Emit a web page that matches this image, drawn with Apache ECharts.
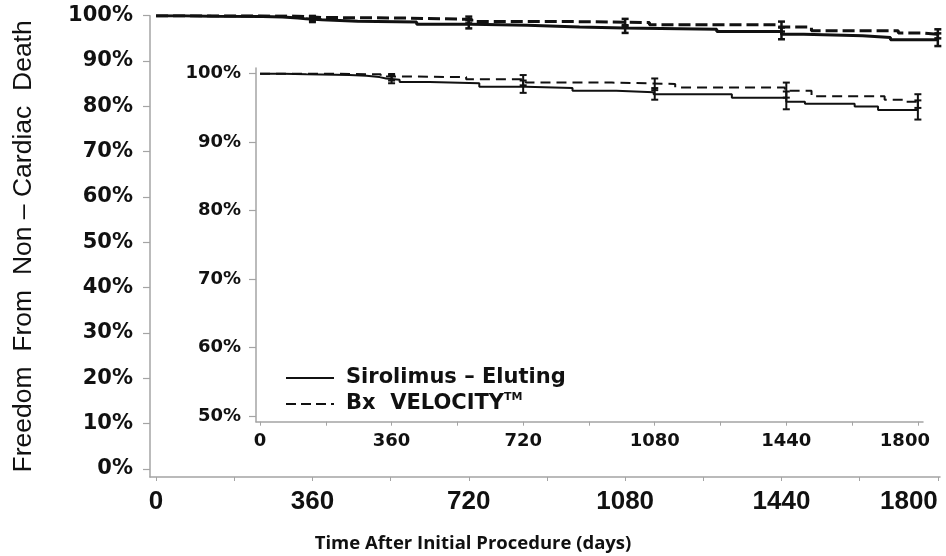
<!DOCTYPE html>
<html>
<head>
<meta charset="utf-8">
<script src="https://cdn.jsdelivr.net/npm/echarts@6/dist/echarts.min.js"></script>
<style>
  html, body { margin: 0; padding: 0; background: #fff; }
  #chart { width: 946px; height: 556px; }
</style>
</head>
<body>
<div id="chart"></div>
<script>
// Kaplan-Meier freedom from non-cardiac death, by stent type
const sesName = 'Sirolimus – Eluting';
const bxName = 'Bx VELOCITY';

// Sirolimus-eluting arm: day of each step and survival (%) from that day on
const sesDays = [0, 63, 127, 245, 291, 327, 345, 382, 464, 600, 727, 855, 975, 1077, 1291, 1440, 1491, 1627, 1691, 1800];
const sesSurv = [100, 99.9, 99.8, 99.7, 99.5, 99.3, 99.1, 98.8, 98.6, 98.1, 97.9, 97.5, 97.3, 97.0, 96.5, 95.9, 95.6, 95.2, 94.7, 94.7];

// Bx VELOCITY arm
const bxDays = [0, 200, 330, 380, 564, 727, 963, 1136, 1436, 1509, 1709, 1764, 1800];
const bxSurv = [100, 99.9, 99.6, 99.5, 99.2, 98.7, 98.5, 98.0, 97.5, 96.7, 96.2, 95.9, 95.9];

// Yearly confidence intervals
const ciDays = [360, 720, 1080, 1440, 1800];
const sesLower = [98.6, 97.2, 96.2, 94.8, 93.3];
const sesUpper = [99.8, 99.0, 97.9, 97.4, 96.1];
const bxLower = [99.0, 98.3, 97.6, 96.5, 95.0];
const bxUpper = [99.95, 99.8, 99.3, 98.7, 97.0];

// Axis ticks and labels
const dayTicks = [0, 180, 360, 540, 720, 900, 1080, 1260, 1440, 1620, 1800];
const dayLabels = [0, 360, 720, 1080, 1440, 1800];
const mainPctTicks = [0, 10, 20, 30, 40, 50, 60, 70, 80, 90, 100];
const insetPctTicks = [50, 60, 70, 80, 90, 100];

const ink = '#111';
const axisGrey = '#a4a4a4';

const pairs = (xs, ys) => xs.map((x, i) => [x, ys[i]]);
const ciRows = (lo, hi) => ciDays.map((d, i) => [d, lo[i], hi[i]]);
const lastDay = dayLabels[dayLabels.length - 1];

function errorBar(capHalf, lw) {
  return function (params, api) {
    const x = api.value(0);
    const p1 = api.coord([x, api.value(1)]);
    const p2 = api.coord([x, api.value(2)]);
    const style = { stroke: ink, lineWidth: lw };
    return {
      type: 'group',
      children: [
        { type: 'line', shape: { x1: p1[0], y1: p1[1], x2: p2[0], y2: p2[1] }, style },
        { type: 'line', shape: { x1: p1[0] - capHalf, y1: p1[1], x2: p1[0] + capHalf, y2: p1[1] }, style },
        { type: 'line', shape: { x1: p2[0] - capHalf, y1: p2[1], x2: p2[0] + capHalf, y2: p2[1] }, style }
      ]
    };
  };
}

function xAxisDef(gridIndex, min, max, labelFont) {
  return {
    type: 'value', gridIndex, min, max,
    axisLine: { show: true, onZero: false, lineStyle: { color: axisGrey, width: 1.5 } },
    axisTick: { show: true, customValues: dayTicks, length: 4, lineStyle: { color: axisGrey, width: 1 } },
    axisLabel: Object.assign({ customValues: dayLabels, color: ink, formatter: v => String(v) }, labelFont),
    splitLine: { show: false }
  };
}

function yAxisDef(gridIndex, min, max, ticks, labelFont) {
  return {
    type: 'value', gridIndex, min, max,
    axisLine: { show: true, onZero: false, lineStyle: { color: axisGrey, width: 1.5 } },
    axisTick: { show: true, customValues: ticks, length: 7, lineStyle: { color: axisGrey, width: 1.2 } },
    axisLabel: Object.assign({ customValues: ticks, color: ink, formatter: v => v + '%' }, labelFont),
    splitLine: { show: false }
  };
}

const chart = echarts.init(document.getElementById('chart'), null, { renderer: 'canvas' });

const mainX = xAxisDef(0, -14, 1805,
  { fontFamily: 'Liberation Sans', fontWeight: 'bold', fontSize: 26, margin: 12, alignMaxLabel: 'right' });

// inset: the final day label sits a little left of its tick
const insetX = xAxisDef(1, -11, 1814,
  { fontFamily: 'DejaVu Sans', fontWeight: 'bold', fontSize: 18, margin: 11 });
insetX.axisLabel.formatter = v => v === lastDay ? '{last|' + v + '}' : String(v);
insetX.axisLabel.rich = {
  last: { fontFamily: 'DejaVu Sans', fontWeight: 'bold', fontSize: 18, color: ink, padding: [0, 26, 0, 0] }
};

const mainY = yAxisDef(0, -1.8, 100, mainPctTicks,
  { fontFamily: 'DejaVu Sans', fontWeight: 'bold', fontSize: 21, margin: 17 });
mainY.name = 'Freedom  From  Non – Cardiac  Death';
mainY.nameLocation = 'middle';
mainY.nameGap = 113;
mainY.nameTextStyle = { fontFamily: 'Liberation Sans', fontSize: 26.5, color: ink };

chart.setOption({
  animation: false,
  backgroundColor: '#fff',
  title: {
    text: 'Time After Initial Procedure (days)',
    left: 'center', top: 529,
    textStyle: { fontFamily: 'Open Sans', fontWeight: 'bold', fontSize: 18.5, color: ink }
  },
  grid: [
    { left: 150, top: 15.7, right: 6, bottom: 79, outerBoundsMode: 'none' },
    { left: 256, top: 68, right: 23, bottom: 134.3, outerBoundsMode: 'none' }
  ],
  xAxis: [mainX, insetX],
  yAxis: [
    mainY,
    yAxisDef(1, 49.17, 100.83, insetPctTicks,
      { fontFamily: 'DejaVu Sans', fontWeight: 'bold', fontSize: 18, margin: 15 })
  ],
  legend: {
    orient: 'vertical', left: 280, top: 361,
    itemWidth: 48, itemHeight: 14, itemGap: 2,
    selectedMode: false,
    itemStyle: { color: 'rgba(0,0,0,0)', borderWidth: 0 },
    data: [
      { name: sesName, lineStyle: { type: 'solid', width: 2, color: ink } },
      { name: bxName, lineStyle: { type: [10, 5], width: 2, color: ink } }
    ],
    formatter: name => name === bxName ? name.replace(' ', '  ') + '{tm|TM}' : name,
    textStyle: {
      fontFamily: 'DejaVu Sans', fontWeight: 'bold', fontSize: 21, color: ink,
      lineHeight: 24, padding: [0, 0, 0, 7],
      rich: {
        tm: { fontFamily: 'DejaVu Sans', fontWeight: 'bold', fontSize: 11, lineHeight: 14, verticalAlign: 'top', color: ink }
      }
    }
  },
  series: [
    { name: sesName, type: 'line', xAxisIndex: 1, yAxisIndex: 1, step: 'end', symbol: 'none',
      lineStyle: { color: ink, width: 2 }, data: pairs(sesDays, sesSurv) },
    { name: bxName, type: 'line', xAxisIndex: 1, yAxisIndex: 1, step: 'end', symbol: 'none',
      lineStyle: { color: ink, width: 2, type: [10, 6] }, data: pairs(bxDays, bxSurv) },
    { name: sesName, type: 'line', xAxisIndex: 0, yAxisIndex: 0, step: 'end', symbol: 'none',
      lineStyle: { color: ink, width: 3 }, data: pairs(sesDays, sesSurv) },
    { name: bxName, type: 'line', xAxisIndex: 0, yAxisIndex: 0, step: 'end', symbol: 'none',
      lineStyle: { color: ink, width: 3, type: [12, 5] }, data: pairs(bxDays, bxSurv) },
    { type: 'custom', xAxisIndex: 1, yAxisIndex: 1, renderItem: errorBar(3.5, 2),
      encode: { x: 0, y: [1, 2] }, data: ciRows(sesLower, sesUpper), z: 3 },
    { type: 'custom', xAxisIndex: 1, yAxisIndex: 1, renderItem: errorBar(3.5, 2),
      encode: { x: 0, y: [1, 2] }, data: ciRows(bxLower, bxUpper), z: 3 },
    { type: 'custom', xAxisIndex: 0, yAxisIndex: 0, renderItem: errorBar(3.5, 2.5),
      encode: { x: 0, y: [1, 2] }, data: ciRows(sesLower, sesUpper), z: 3 },
    { type: 'custom', xAxisIndex: 0, yAxisIndex: 0, renderItem: errorBar(3.5, 2.5),
      encode: { x: 0, y: [1, 2] }, data: ciRows(bxLower, bxUpper), z: 3 }
  ]
});
</script>
</body>
</html>
